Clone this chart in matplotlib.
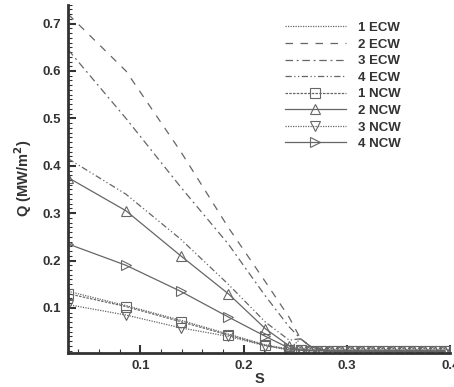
import numpy as np
import matplotlib
matplotlib.use('Agg')
from matplotlib import pyplot as plt
from matplotlib.ticker import MultipleLocator

# S positions of the computed points
s_head = [0.03, 0.086, 0.139, 0.185, 0.221, 0.244]
s_tail = [0.255, 0.265, 0.275, 0.285, 0.295, 0.305, 0.315, 0.325,
          0.335, 0.345, 0.355, 0.365, 0.375, 0.385, 0.395]

ecw1 = [0.135, 0.105, 0.074, 0.045, 0.022, 0.013]
ecw2 = [0.72, 0.60, 0.43, 0.27, 0.155, 0.08]
ecw3 = [0.645, 0.50, 0.355, 0.235, 0.125, 0.06]
ecw4 = [0.415, 0.34, 0.245, 0.15, 0.07, 0.032]
ncw1 = [0.13, 0.103, 0.071, 0.043, 0.021, 0.012]
ncw2 = [0.375, 0.305, 0.21, 0.13, 0.056, 0.02]
ncw3 = [0.107, 0.085, 0.058, 0.04, 0.02, 0.011]
ncw4 = [0.235, 0.19, 0.135, 0.081, 0.04, 0.015]

tail_ecw = [0.035, 0.018, 0.012, 0.01, 0.009, 0.008, 0.008, 0.008,
            0.008, 0.008, 0.008, 0.008, 0.008, 0.008, 0.008]
tail_ncw = [0.011, 0.01, 0.01, 0.009, 0.009, 0.009, 0.009, 0.009,
            0.009, 0.009, 0.009, 0.009, 0.009, 0.009, 0.009]

labels = ['1 ECW', '2 ECW', '3 ECW', '4 ECW', '1 NCW', '2 NCW', '3 NCW', '4 NCW']

plt.rcParams['font.family'] = ['Liberation Sans', 'DejaVu Sans']
plt.rcParams['font.weight'] = 'bold'

fig = plt.figure(figsize=(4.54, 3.87), dpi=100)
ax = fig.add_axes([0.150, 0.088, 0.842, 0.900])

col = '#666666'
s_all = s_head + s_tail

ax.plot(s_all, ecw1 + tail_ecw, color=col, lw=0.9, ls=(0, (1, 1)), label=labels[0])
ax.plot(s_all, ecw2 + tail_ecw, color=col, lw=0.9, ls=(0, (6, 6)), label=labels[1])
ax.plot(s_all, ecw3 + tail_ecw, color=col, lw=0.9, ls=(0, (6, 3, 1.5, 3)), label=labels[2])
ax.plot(s_all, ecw4 + tail_ecw, color=col, lw=0.9, ls=(0, (5, 2, 1, 2, 1, 2)), label=labels[3])

mk = dict(markersize=7, markerfacecolor='none', markeredgewidth=0.8, color=col)
ax.plot(s_all, ncw1 + tail_ncw, lw=0.9, ls=(0, (2, 1)), marker='s', label=labels[4], **mk)
ax.plot(s_all, ncw2 + tail_ncw, lw=0.9, ls='-', marker='^', label=labels[5], **mk)
ax.plot(s_all, ncw3 + tail_ncw, lw=0.9, ls=(0, (1, 1)), marker='v', label=labels[6], **mk)
ax.plot(s_all, ncw4 + tail_ncw, lw=0.9, ls='-', marker='>', label=labels[7], **mk)

ax.set_xlim(0.03, 0.4)
ax.set_ylim(0.005, 0.74)
ax.set_xticks([0.1, 0.2, 0.3, 0.4])
ax.set_yticks([0.1, 0.2, 0.3, 0.4, 0.5, 0.6, 0.7])
ax.set_xticklabels(['0.1', '0.2', '0.3', '0.4'])
ax.set_yticklabels(['0.1', '0.2', '0.3', '0.4', '0.5', '0.6', '0.7'])
ax.xaxis.set_minor_locator(MultipleLocator(0.02))
ax.yaxis.set_minor_locator(MultipleLocator(0.01))
ax.tick_params(which='major', direction='in', length=6, width=1.5, labelsize=9.5,
               colors='#333333', pad=5)
ax.tick_params(which='minor', direction='in', length=3, width=0.8, colors='#333333')

for side in ['top', 'right']:
    ax.spines[side].set_visible(False)
for side in ['left', 'bottom']:
    ax.spines[side].set_linewidth(2)
    ax.spines[side].set_color('#333333')

ax.set_xlabel('S', fontsize=10.5, fontweight='bold', labelpad=0, color='#333333')
ax.set_ylabel('Q (MW/m$^\\mathbf{2}$)', fontsize=10.5, fontweight='bold', labelpad=6, color='#333333')

leg = ax.legend(loc='upper right', bbox_to_anchor=(0.90, 0.985), frameon=False,
                fontsize=9.5, handlelength=4.6, labelspacing=0.33, handletextpad=0.9)
for t in leg.get_texts():
    t.set_color('#333333')

fig.savefig('out.png', dpi=100)
